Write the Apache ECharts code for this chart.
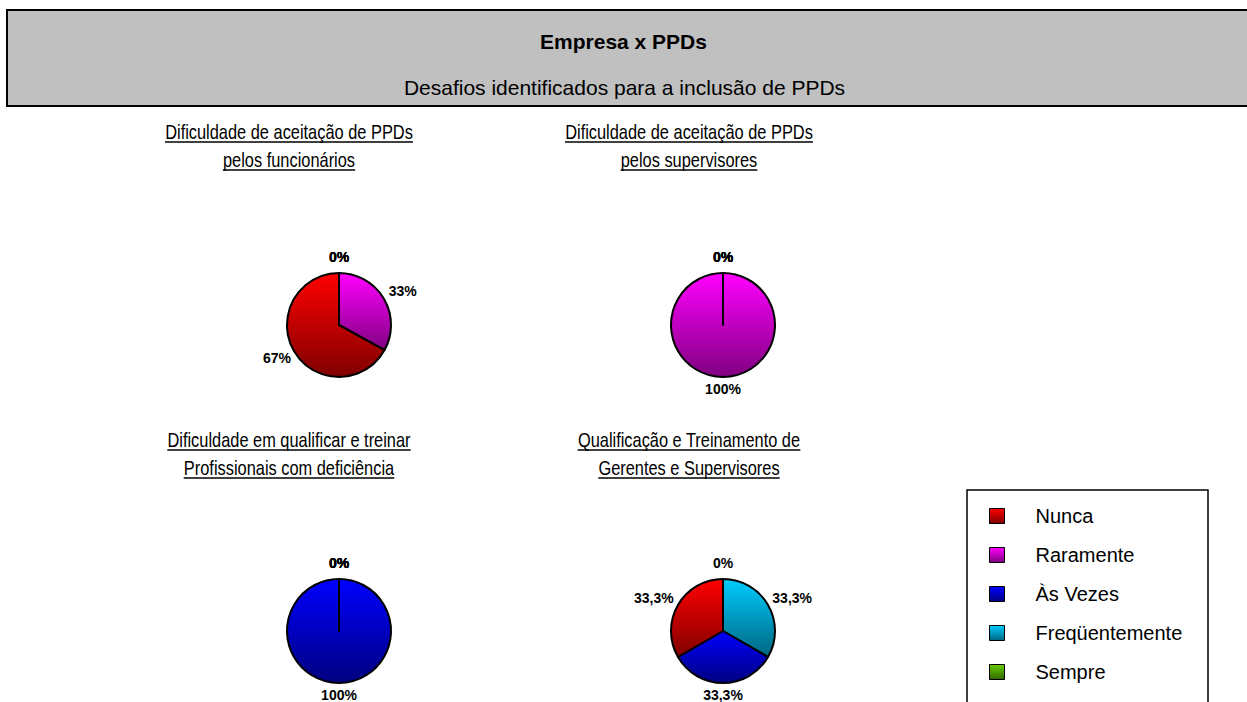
<!DOCTYPE html>
<html>
<head>
<meta charset="utf-8">
<script src="https://cdn.jsdelivr.net/npm/echarts@6/dist/echarts.min.js"></script>
<style>
  html, body { margin: 0; padding: 0; background: #fff; }
  #chart { width: 1247px; height: 702px; }
</style>
</head>
<body>
<div id="chart"></div>
<script>
// ---------------- DATA ----------------
const mainTitle = 'Empresa x PPDs';
const subTitle = 'Desafios identificados para a inclusão de PPDs';
const categories = ['Nunca', 'Raramente', 'Às Vezes', 'Freqüentemente', 'Sempre'];
const pieTitles = [
  ['Dificuldade de aceitação de PPDs', 'pelos funcionários'],
  ['Dificuldade de aceitação de PPDs', 'pelos supervisores'],
  ['Dificuldade em qualificar e treinar', 'Profissionais com deficiência'],
  ['Qualificação e Treinamento de', 'Gerentes e Supervisores']
];
// percentages, in category order (null = not present)
const valuesFuncionarios = [67, 33, 0, 0, 0];
const valuesSupervisores = [0, 100, 0, 0, 0];
const valuesQualificar   = [0, 0, 100, 0, 0];
const valuesTreinamento  = [33.3, null, 33.3, 33.3, 0];
const pieValues = [valuesFuncionarios, valuesSupervisores, valuesQualificar, valuesTreinamento];

// ---------------- STYLE / LAYOUT ----------------
const FONT = "'Liberation Sans', Arial, sans-serif";
const NARROW = "'Liberation Sans Narrow', 'Arial Narrow'";
const gradients = {
  'Nunca':          ['#ff0000', '#800000'],
  'Raramente':      ['#ff00ff', '#800080'],
  'Às Vezes':       ['#0000ff', '#000080'],
  'Freqüentemente': ['#00ccff', '#006680'],
  'Sempre':         ['#66cc00', '#336600']
};
const R = 52;
const pieCenters = [[339, 325], [723, 325], [339, 631], [723, 631]];
const titlePos = [[289, 132], [689, 132], [289, 440], [689, 440]];
const titleLineH = 28;

const measureCtx = document.createElement('canvas').getContext('2d');
function textWidth(t, font) { measureCtx.font = font; return measureCtx.measureText(t).width; }
const probe = 'abcdefghijklmnopqrstuvwxyz';
const narrowOK = textWidth(probe, '20px ' + NARROW + ', monospace') !== textWidth(probe, '20px monospace');

// chart-title and legend typography (narrow face, or regular face squeezed)
const titleFamily = narrowOK ? NARROW + ', ' + FONT : FONT;
const titleFontSize = 20;
const titleScaleX = narrowOK ? 1 : 0.82;
const legendFamily = narrowOK ? NARROW + ', ' + FONT : FONT;
const legendFontSize = narrowOK ? 24 : 20;

function grad(name) {
  const g = gradients[name];
  return { type: 'linear', x: 0, y: 0, x2: 0, y2: 1, colorStops: [{ offset: 0, color: g[0] }, { offset: 1, color: g[1] }] };
}
function fmt(v) { return String(v).replace('.', ',') + '%'; }

const chart = echarts.init(document.getElementById('chart'), null, { renderer: 'svg' });

const series = pieValues.map((vals, si) => {
  // clockwise from 12 o'clock: Sempre, Freqüentemente, Às Vezes, Raramente, Nunca
  const data = [];
  for (let i = categories.length - 1; i >= 0; i--) {
    if (vals[i] === null) continue;
    data.push({ name: categories[i], value: vals[i], itemStyle: { color: grad(categories[i]) } });
  }
  return {
    type: 'pie',
    center: pieCenters[si],
    radius: R,
    startAngle: 90,
    clockwise: true,
    avoidLabelOverlap: false,
    stillShowZeroSum: true,
    silent: true,
    animation: false,
    itemStyle: { borderColor: '#000', borderWidth: 2 },
    label: {
      show: true,
      position: 'outside',
      distanceToLabelLine: 0,
      formatter: p => fmt(p.value),
      fontFamily: FONT,
      fontWeight: 'bold',
      fontSize: 14,
      lineHeight: 12,
      color: '#000'
    },
    labelLine: { show: false, length: 10, length2: 0 },
    emphasis: { disabled: true },
    labelLayout: function (p) {
      const c = pieCenters[p.seriesIndex];
      const r = p.labelRect;
      const ax = p.align === 'right' ? r.x + r.width : (p.align === 'center' ? r.x + r.width / 2 : r.x);
      const ay = r.y + r.height / 2;
      let ux = ax - c[0], uy = ay - c[1];
      const d = Math.hypot(ux, uy) || 1;
      ux /= d; uy /= d;
      const gap = 7 - 2 * uy;
      return {
        x: c[0] + ux * (R + gap) + ux * r.width / 2,
        y: c[1] + uy * (R + gap) + uy * r.height / 2,
        align: 'center',
        verticalAlign: 'middle'
      };
    },
    data: data
  };
});

// graphics: header box, titles, legend frame
const graphics = [];
graphics.push({ type: 'rect', shape: { x: 7, y: 10, width: 1260, height: 96 }, style: { fill: '#c0c0c0', stroke: '#000', lineWidth: 2 }, silent: true });
graphics.push({ type: 'text', x: 623.5, y: 41, style: { text: mainTitle, font: 'bold 21px ' + FONT, fill: '#000', textAlign: 'center', textVerticalAlign: 'middle', align: 'center', verticalAlign: 'middle' }, silent: true });
graphics.push({ type: 'text', x: 624.5, y: 87, style: { text: subTitle, font: '21px ' + FONT, fill: '#000', textAlign: 'center', textVerticalAlign: 'middle', align: 'center', verticalAlign: 'middle' }, silent: true });

pieTitles.forEach((lines, i) => {
  const [tx, ty] = titlePos[i];
  lines.forEach((line, li) => {
    const y = ty + li * titleLineH;
    const font = titleFontSize + 'px ' + titleFamily;
    graphics.push({ type: 'text', x: tx, y: y, scaleX: titleScaleX, style: { text: line, font: font, fill: '#000', textAlign: 'center', textVerticalAlign: 'middle', align: 'center', verticalAlign: 'middle' }, silent: true });
    const w = textWidth(line, font) * titleScaleX;
    graphics.push({ type: 'line', shape: { x1: tx - w / 2, y1: y + 10, x2: tx + w / 2, y2: y + 10 }, style: { stroke: '#000', lineWidth: 1.5 }, silent: true });
  });
});

graphics.push({ type: 'rect', shape: { x: 967, y: 490, width: 241, height: 260 }, style: { fill: '#fff', stroke: '#000', lineWidth: 1.5 }, silent: true, z: -1 });

chart.setOption({
  backgroundColor: '#fff',
  animation: false,
  graphic: graphics,
  legend: {
    orient: 'vertical',
    left: 989,
    top: 506,
    padding: 0,
    itemWidth: 15,
    itemHeight: 15,
    itemGap: 19,
    icon: 'rect',
    selectedMode: false,
    data: categories,
    itemStyle: { borderColor: '#000', borderWidth: 1 },
    textStyle: { fontFamily: legendFamily, fontSize: legendFontSize, color: '#000', lineHeight: 20, padding: [0, 0, 0, 26] }
  },
  series: series
});
</script>
</body>
</html>
